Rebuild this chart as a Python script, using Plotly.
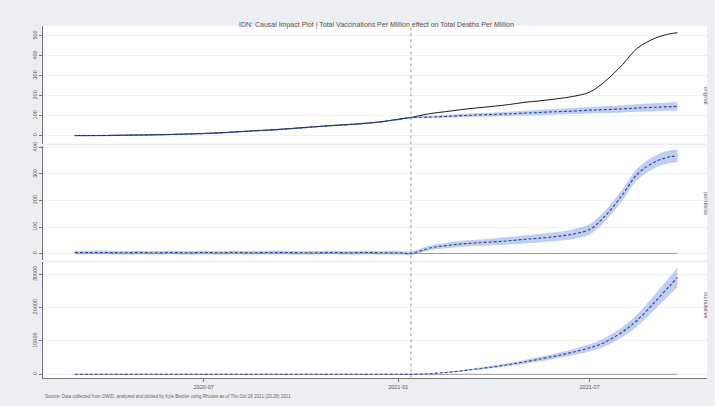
import plotly.graph_objects as go

# ---------------- data ----------------
dates = ["2020-03-01", "2020-03-15", "2020-04-01", "2020-04-15", "2020-05-01", "2020-05-15",
         "2020-06-01", "2020-06-15", "2020-07-01", "2020-07-15", "2020-08-01", "2020-08-15",
         "2020-09-01", "2020-09-15", "2020-10-01", "2020-10-15", "2020-11-01", "2020-11-15",
         "2020-12-01", "2020-12-15", "2021-01-01", "2021-01-13", "2021-02-01", "2021-02-15",
         "2021-03-01", "2021-03-15", "2021-04-01", "2021-04-15", "2021-05-01", "2021-05-15",
         "2021-06-01", "2021-06-15", "2021-07-01", "2021-07-15", "2021-08-01", "2021-08-15",
         "2021-09-01", "2021-09-15", "2021-09-22"]

intervention = "2021-01-13"

observed = [0, 0.1, 0.6, 1.8, 3.0, 4.2, 6.0, 8.1, 10.6, 13.8, 19.0, 23.5, 27.8, 33, 39.2, 44.8,
            51.2, 55.5, 61.8, 69, 82, 91, 111, 120, 130, 138, 147, 155, 167, 174, 185, 196,
            218, 269, 355, 437, 488, 510, 515]

predicted = [0.5, 0.6, 0.9, 1.9, 2.9, 4.3, 5.8, 8.0, 10.4, 13.6, 18.6, 23.3, 27.5, 32.6, 38.8, 44.5,
             50.6, 55.2, 61.2, 68.4, 81, 90, 93, 96, 100, 103, 106, 109, 113, 116, 120, 123,
             127, 130, 134, 138, 142, 145, 147]
pred_half = [4, 4, 4, 4, 4, 4, 4, 4, 4, 4, 4, 4, 4, 4, 4, 4, 4, 4, 4, 4, 4, 4, 6, 7, 8, 9, 10, 11,
             12, 13, 14, 15, 16, 17, 18, 19, 20, 21, 21]

pointwise = [4, 4, 4, 3, 4, 3, 4, 3, 4, 3, 4, 3, 4, 4, 3, 3, 4, 3, 4, 3, 3, 1, 22, 30, 36, 40, 44,
             48, 54, 58, 65, 73, 91, 139, 221, 299, 346, 365, 368]
point_half = [7, 7, 7, 7, 7, 7, 7, 7, 7, 7, 7, 7, 7, 7, 7, 7, 7, 7, 7, 7, 7, 7, 9, 10, 11, 12, 13,
              14, 15, 16, 17, 18, 19, 20, 21, 22, 23, 24, 24]

cumulative = [0] * 22 + [200, 560, 1000, 1540, 2240, 2900, 3750, 4580, 5620, 6620, 7940, 9560,
                         12680, 16200, 21800, 26600, 29000]
cum_half = [0] * 22 + [60, 120, 200, 280, 380, 470, 570, 680, 800, 920, 1080, 1250, 1500, 1800,
                       2200, 2700, 2900]

y1_ticks = [0, 100, 200, 300, 400, 500]
y2_ticks = [0, 100, 200, 300, 400]
y3_ticks = [0, 10000, 20000, 30000]
x_ticks = ["2020-07-01", "2021-01-01", "2021-07-01"]
x_tick_labels = ["2020-07", "2021-01", "2021-07"]
panel_labels = ["original", "pointwise", "cumulative"]

title_text = "IDN: Causal Impact Plot | Total Vaccinations Per Million effect on Total Deaths Per Million"
footer_text = ("Source: Data collected from OWID, analyzed and plotted by Kyle Beutler using Rhodes "
               "as of Thu Oct 28 2021 (20:28) 2021")

# ---------------- style ----------------
W, H = 715, 406
BG = "#ebeff2"
BAND = "rgba(125,160,228,0.5)"
BLUE = "#2c44a6"
FONT = "Liberation Sans, Arial, sans-serif"

def pd_y(px):
    return 1 - px / H

x_dom = [43 / W, 707 / W]
doms = [[pd_y(141), pd_y(22)], [pd_y(259), pd_y(143)], [pd_y(378), pd_y(261)]]
ranges = [[-40, 550], [-26, 407], [-1190, 33530]]
ticks = [y1_ticks, y2_ticks, y3_ticks]

fig = go.Figure()

def band(center, half, yaxis):
    upper = [c + h for c, h in zip(center, half)]
    lower = [c - h for c, h in zip(center, half)]
    fig.add_trace(go.Scatter(x=dates, y=upper, mode="lines", line=dict(width=0, shape="spline"),
                             hoverinfo="skip", showlegend=False, xaxis="x", yaxis=yaxis))
    fig.add_trace(go.Scatter(x=dates, y=lower, mode="lines", line=dict(width=0, shape="spline"),
                             fill="tonexty", fillcolor=BAND, hoverinfo="skip", showlegend=False,
                             xaxis="x", yaxis=yaxis))

# panel 1
band(predicted, pred_half, "y")
fig.add_trace(go.Scatter(x=dates, y=observed, mode="lines", line=dict(color="#1a1a1a", width=1, shape="spline"),
                         showlegend=False, xaxis="x", yaxis="y"))
fig.add_trace(go.Scatter(x=dates, y=predicted, mode="lines",
                         line=dict(color=BLUE, width=1.1, dash="3px,2px", shape="spline"),
                         showlegend=False, xaxis="x", yaxis="y"))

# panel 2
fig.add_trace(go.Scatter(x=[dates[0], dates[-1]], y=[0, 0], mode="lines",
                         line=dict(color="#9a9a9a", width=1), showlegend=False, xaxis="x", yaxis="y2"))
band(pointwise, point_half, "y2")
fig.add_trace(go.Scatter(x=dates, y=pointwise, mode="lines",
                         line=dict(color=BLUE, width=1.1, dash="3px,2px", shape="spline"),
                         showlegend=False, xaxis="x", yaxis="y2"))

# panel 3
fig.add_trace(go.Scatter(x=[dates[0], dates[-1]], y=[0, 0], mode="lines",
                         line=dict(color="#9a9a9a", width=1), showlegend=False, xaxis="x", yaxis="y3"))
band(cumulative, cum_half, "y3")
fig.add_trace(go.Scatter(x=dates, y=cumulative, mode="lines",
                         line=dict(color=BLUE, width=1.1, dash="3px,2px", shape="spline"),
                         showlegend=False, xaxis="x", yaxis="y3"))

axis_common = dict(showline=True, linecolor="#777", linewidth=1, ticks="outside", ticklen=3,
                   tickcolor="#777", tickfont=dict(size=5.5, color="#555", family=FONT),
                   showgrid=True, gridcolor="#f0f0f0", gridwidth=1, zeroline=False,
                   tickangle=-90, tickformat="d")

layout = dict(
    width=W, height=H, paper_bgcolor=BG, plot_bgcolor="white",
    margin=dict(l=0, r=0, t=0, b=0),
    font=dict(family=FONT),
    xaxis=dict(domain=x_dom, anchor="y3", type="date", range=["2020-01-31", "2021-10-20"],
               tickvals=x_ticks, ticktext=x_tick_labels, showline=True, linecolor="#777",
               ticks="outside", ticklen=3, tickcolor="#777",
               tickfont=dict(size=5.5, color="#555", family=FONT),
               showgrid=False, zeroline=False),
)
for i, key in enumerate(["yaxis", "yaxis2", "yaxis3"]):
    d = dict(axis_common)
    d.update(domain=doms[i], range=ranges[i], tickvals=ticks[i], anchor="x")
    layout[key] = d

fig.update_layout(**layout)

fig.add_shape(type="line", xref="x", yref="paper", x0=intervention, x1=intervention,
              y0=doms[2][0], y1=doms[0][1], line=dict(color="#999", width=1, dash="3px,3px"))

fig.add_annotation(text=title_text, xref="paper", yref="paper", x=377 / W, y=pd_y(15),
                   showarrow=False, font=dict(size=7, color="#555", family=FONT))
fig.add_annotation(text=footer_text, xref="paper", yref="paper", x=43 / W, y=pd_y(401),
                   xanchor="left", showarrow=False, font=dict(size=4.5, color="#666", family=FONT))
for lab, dom in zip(panel_labels, doms):
    fig.add_annotation(text=lab, xref="paper", yref="paper", x=711 / W, y=(dom[0] + dom[1]) / 2,
                       showarrow=False, textangle=90, font=dict(size=5.5, color="#555", family=FONT))

fig.write_html("out.html", config={"displayModeBar": False},
               post_script="document.body.style.margin='0';document.body.style.padding='0';"
                           "document.documentElement.style.overflow='hidden';")
